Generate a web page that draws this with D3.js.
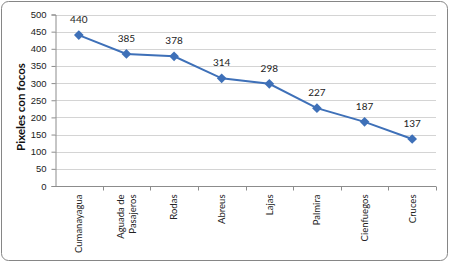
<!DOCTYPE html>
<html>
<head>
<meta charset="utf-8">
<script src="https://cdn.jsdelivr.net/npm/d3@7"></script>
<style>
  body { margin: 0; background: #fff; }
  svg { font-family: Lato, "Open Sans", sans-serif; }
</style>
</head>
<body>
<svg id="chart"></svg>
<script>
const categories = ["Cumanayagua", "Aguada de|Pasajeros", "Rodas", "Abreus", "Lajas", "Palmira", "Cienfuegos", "Cruces"];
const values = [440, 385, 378, 314, 298, 227, 187, 137];
const yTicks = [0, 50, 100, 150, 200, 250, 300, 350, 400, 450, 500];
const yTitle = "Pixeles con focos";

let W = 450, H = 263;
let svg = d3.select("#chart")
  .attr("width", W)
  .attr("height", H);

// outer frame
svg.append("rect")
  .attr("x", 1.5).attr("y", 1.5)
  .attr("width", W - 4).attr("height", H - 4)
  .attr("rx", 7)
  .attr("fill", "#fff")
  .attr("stroke", "#868686")
  .attr("stroke-width", 1);

// plot area
let pLeft = 55, pRight = 436, pTop = 14.5, pBottom = 186;

let x = d3.scaleBand()
  .domain(categories)
  .range([pLeft, pRight]);
let y = d3.scaleLinear()
  .domain([0, 500])
  .range([pBottom, pTop]);

// gridlines
svg.append("g")
  .selectAll("line")
  .data(yTicks.filter(d => d > 0))
  .join("line")
    .attr("x1", pLeft).attr("x2", pRight)
    .attr("y1", d => Math.round(y(d)) + 0.5)
    .attr("y2", d => Math.round(y(d)) + 0.5)
    .attr("stroke", "#d4d4d4")
    .attr("stroke-width", 1.2);

// y axis
let yAxis = svg.append("g")
  .attr("transform", `translate(${pLeft + 0.5},0)`)
  .call(d3.axisLeft(y).tickValues(yTicks).tickSize(4).tickPadding(5));
yAxis.select(".domain").attr("stroke", "#8c8c8c");
yAxis.selectAll(".tick line").attr("stroke", "#8c8c8c");
yAxis.selectAll("text")
  .attr("font-size", 9.5)
  .attr("fill", "#222");

// x axis
let xAxis = svg.append("g")
  .attr("transform", `translate(0,${Math.round(pBottom) + 0.5})`);
xAxis.append("line")
  .attr("x1", pLeft).attr("x2", pRight)
  .attr("stroke", "#8c8c8c");
xAxis.selectAll(".xt")
  .data(categories.map((c, i) => i + 1))
  .join("line")
    .attr("class", "xt")
    .attr("x1", i => Math.round(pLeft + i * x.step()) + 0.5)
    .attr("x2", i => Math.round(pLeft + i * x.step()) + 0.5)
    .attr("y1", 0).attr("y2", 4)
    .attr("stroke", "#8c8c8c");

let labels = xAxis.selectAll(".xl")
  .data(categories)
  .join("text")
    .attr("class", "xl")
    .attr("transform", d => `translate(${x(d) + x.bandwidth() / 2},8) rotate(-90)`)
    .attr("text-anchor", "end")
    .attr("font-size", 9.5)
    .attr("fill", "#222");
labels.each(function(d) {
  let parts = d.split("|");
  let t = d3.select(this);
  parts.forEach((p, i) => {
    t.append("tspan")
      .attr("x", 0)
      .attr("y", (i - (parts.length - 1) / 2) * 11.5)
      .attr("dy", "0.35em")
      .text(p);
  });
});

// y title
svg.append("text")
  .attr("transform", `translate(21,107) rotate(-90)`)
  .attr("text-anchor", "middle")
  .attr("dy", "0.35em")
  .attr("font-size", 11.5)
  .attr("font-weight", "bold")
  .attr("fill", "#111")
  .text(yTitle);

// line
let cx = (d, i) => x(categories[i]) + x.bandwidth() / 2;
let line = d3.line()
  .x((d, i) => cx(d, i))
  .y(d => y(d));

svg.append("path")
  .datum(values)
  .attr("d", line)
  .attr("fill", "none")
  .attr("stroke", "#3e70b8")
  .attr("stroke-width", 2);

svg.append("g")
  .selectAll("path")
  .data(values)
  .join("path")
    .attr("d", d3.symbol(d3.symbolDiamond2, 60))
    .attr("transform", (d, i) => `translate(${cx(d, i)},${y(d)})`)
    .attr("fill", "#3e70b8");

// data labels
svg.append("g")
  .selectAll("text")
  .data(values)
  .join("text")
    .attr("x", (d, i) => cx(d, i))
    .attr("y", d => y(d) - 12)
    .attr("text-anchor", "middle")
    .attr("font-size", 10)
    .attr("fill", "#222")
    .text(d => d);
</script>
</body>
</html>
